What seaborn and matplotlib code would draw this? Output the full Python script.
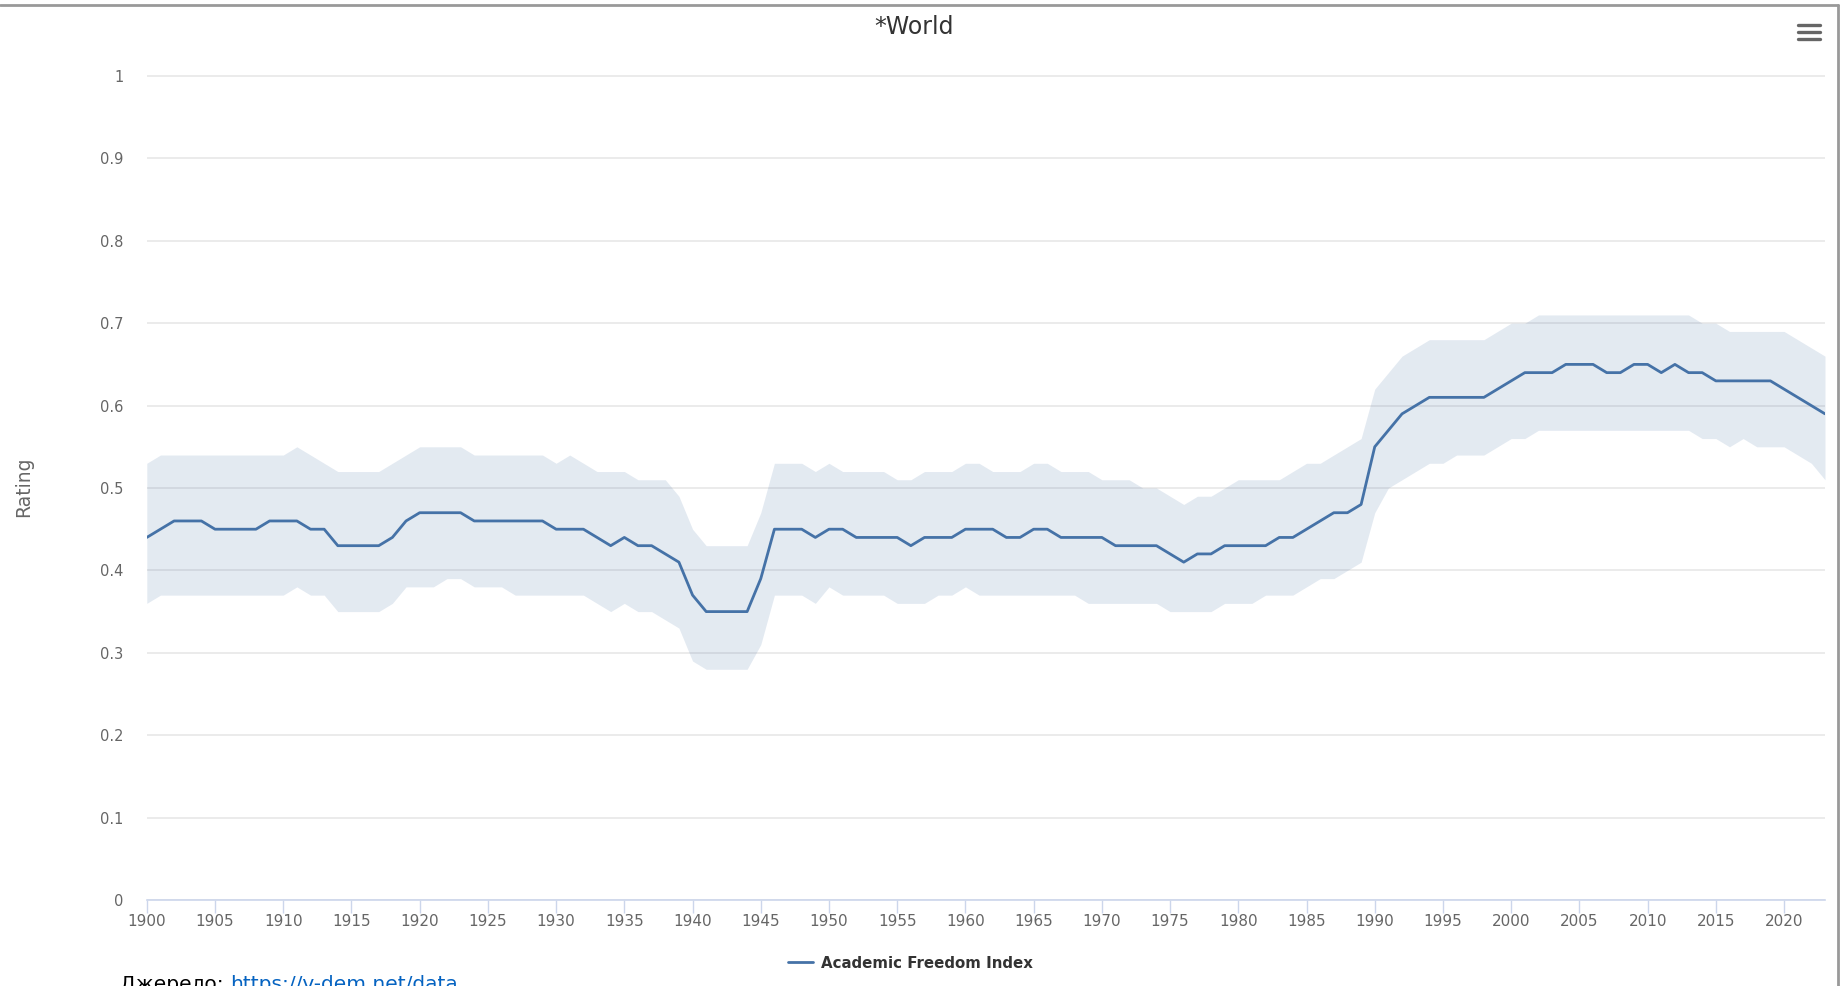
import numpy as np
import pandas as pd
import matplotlib
matplotlib.use('Agg')
import matplotlib.pyplot as plt
from matplotlib.lines import Line2D
import seaborn as sns

# дані: Academic Freedom Index, World
years = list(range(1900, 2024))

afi = [
    0.44, 0.45, 0.46, 0.46, 0.46, 0.45, 0.45, 0.45, 0.45, 0.46,  # 1900-1909
    0.46, 0.46, 0.45, 0.45, 0.43, 0.43, 0.43, 0.43, 0.44, 0.46,  # 1910-1919
    0.47, 0.47, 0.47, 0.47, 0.46, 0.46, 0.46, 0.46, 0.46, 0.46,  # 1920-1929
    0.45, 0.45, 0.45, 0.44, 0.43, 0.44, 0.43, 0.43, 0.42, 0.41,  # 1930-1939
    0.37, 0.35, 0.35, 0.35, 0.35, 0.39, 0.45, 0.45, 0.45, 0.44,  # 1940-1949
    0.45, 0.45, 0.44, 0.44, 0.44, 0.44, 0.43, 0.44, 0.44, 0.44,  # 1950-1959
    0.45, 0.45, 0.45, 0.44, 0.44, 0.45, 0.45, 0.44, 0.44, 0.44,  # 1960-1969
    0.44, 0.43, 0.43, 0.43, 0.43, 0.42, 0.41, 0.42, 0.42, 0.43,  # 1970-1979
    0.43, 0.43, 0.43, 0.44, 0.44, 0.45, 0.46, 0.47, 0.47, 0.48,  # 1980-1989
    0.55, 0.57, 0.59, 0.60, 0.61, 0.61, 0.61, 0.61, 0.61, 0.62,  # 1990-1999
    0.63, 0.64, 0.64, 0.64, 0.65, 0.65, 0.65, 0.64, 0.64, 0.65,  # 2000-2009
    0.65, 0.64, 0.65, 0.64, 0.64, 0.63, 0.63, 0.63, 0.63, 0.63,  # 2010-2019
    0.62, 0.61, 0.60, 0.59,                                      # 2020-2023
]

afi_high = [
    0.53, 0.54, 0.54, 0.54, 0.54, 0.54, 0.54, 0.54, 0.54, 0.54,
    0.54, 0.55, 0.54, 0.53, 0.52, 0.52, 0.52, 0.52, 0.53, 0.54,
    0.55, 0.55, 0.55, 0.55, 0.54, 0.54, 0.54, 0.54, 0.54, 0.54,
    0.53, 0.54, 0.53, 0.52, 0.52, 0.52, 0.51, 0.51, 0.51, 0.49,
    0.45, 0.43, 0.43, 0.43, 0.43, 0.47, 0.53, 0.53, 0.53, 0.52,
    0.53, 0.52, 0.52, 0.52, 0.52, 0.51, 0.51, 0.52, 0.52, 0.52,
    0.53, 0.53, 0.52, 0.52, 0.52, 0.53, 0.53, 0.52, 0.52, 0.52,
    0.51, 0.51, 0.51, 0.50, 0.50, 0.49, 0.48, 0.49, 0.49, 0.50,
    0.51, 0.51, 0.51, 0.51, 0.52, 0.53, 0.53, 0.54, 0.55, 0.56,
    0.62, 0.64, 0.66, 0.67, 0.68, 0.68, 0.68, 0.68, 0.68, 0.69,
    0.70, 0.70, 0.71, 0.71, 0.71, 0.71, 0.71, 0.71, 0.71, 0.71,
    0.71, 0.71, 0.71, 0.71, 0.70, 0.70, 0.69, 0.69, 0.69, 0.69,
    0.69, 0.68, 0.67, 0.66,
]

afi_low = [
    0.36, 0.37, 0.37, 0.37, 0.37, 0.37, 0.37, 0.37, 0.37, 0.37,
    0.37, 0.38, 0.37, 0.37, 0.35, 0.35, 0.35, 0.35, 0.36, 0.38,
    0.38, 0.38, 0.39, 0.39, 0.38, 0.38, 0.38, 0.37, 0.37, 0.37,
    0.37, 0.37, 0.37, 0.36, 0.35, 0.36, 0.35, 0.35, 0.34, 0.33,
    0.29, 0.28, 0.28, 0.28, 0.28, 0.31, 0.37, 0.37, 0.37, 0.36,
    0.38, 0.37, 0.37, 0.37, 0.37, 0.36, 0.36, 0.36, 0.37, 0.37,
    0.38, 0.37, 0.37, 0.37, 0.37, 0.37, 0.37, 0.37, 0.37, 0.36,
    0.36, 0.36, 0.36, 0.36, 0.36, 0.35, 0.35, 0.35, 0.35, 0.36,
    0.36, 0.36, 0.37, 0.37, 0.37, 0.38, 0.39, 0.39, 0.40, 0.41,
    0.47, 0.50, 0.51, 0.52, 0.53, 0.53, 0.54, 0.54, 0.54, 0.55,
    0.56, 0.56, 0.57, 0.57, 0.57, 0.57, 0.57, 0.57, 0.57, 0.57,
    0.57, 0.57, 0.57, 0.57, 0.56, 0.56, 0.55, 0.56, 0.55, 0.55,
    0.55, 0.54, 0.53, 0.51,
]

x_ticks = list(range(1900, 2021, 5))
y_ticks = [0, 0.1, 0.2, 0.3, 0.4, 0.5, 0.6, 0.7, 0.8, 0.9, 1]
y_tick_labels = ['0', '0.1', '0.2', '0.3', '0.4', '0.5', '0.6', '0.7', '0.8', '0.9', '1']

df = pd.DataFrame({'year': years, 'afi': afi, 'low': afi_low, 'high': afi_high})

LINE = '#4572a7'
GRID = '#e6e6e6'
AXIS = '#ccd6eb'
LABEL = '#666666'

sns.set_theme(style='white')
plt.rcParams['font.family'] = ['DejaVu Sans']

W, H = 1842, 986
fig = plt.figure(figsize=(W / 100, H / 100), dpi=100)

# площа графіка в пікселях
x0, x1 = 146.8, 1825
y_zero, y_one = 900, 76
ymax = 1.01
top_px = y_zero - (y_zero - y_one) * ymax
ax = fig.add_axes([x0 / W, 1 - y_zero / H, (x1 - x0) / W, (y_zero - top_px) / H])

ax.fill_between(df['year'], df['low'], df['high'], color=LINE, alpha=0.15,
                linewidth=0, zorder=2)
sns.lineplot(data=df, x='year', y='afi', ax=ax, color=LINE, linewidth=2.0,
             legend=False, zorder=3)

ax.set_xlim(1900, 2023)
ax.set_ylim(0, ymax)
ax.set_yticks(y_ticks)
ax.set_yticklabels(y_tick_labels)
ax.set_xticks(x_ticks)
ax.grid(axis='y', color=GRID, linewidth=1.1, zorder=0)
ax.grid(axis='x', visible=False)
ax.set_axisbelow(True)

for s in ['top', 'right', 'left']:
    ax.spines[s].set_visible(False)
ax.spines['bottom'].set_color(AXIS)
ax.spines['bottom'].set_linewidth(1.2)
ax.spines['bottom'].set_zorder(4)

ax.tick_params(axis='y', length=0, pad=17, labelsize=10.5, labelcolor=LABEL)
ax.tick_params(axis='x', length=9, width=1, color=AXIS, pad=1,
               labelsize=11, labelcolor=LABEL, bottom=True)
ax.set_xlabel('')
ax.set_ylabel('')

# підпис осі Y
fig.text(24 / W, 1 - 487 / H, 'Rating', rotation=90, ha='center', va='center',
         fontsize=13.5, color=LABEL)

# заголовок
fig.text(914 / W, 1 - 27 / H, '*World', ha='center', va='center',
         fontsize=17, color='#333333')

# легенда
handle = Line2D([], [], color=LINE, linewidth=2)
leg = fig.legend([handle], ['Academic Freedom Index'], loc='center',
                 bbox_to_anchor=(910 / W, 1 - 963 / H), frameon=False,
                 handlelength=1.7, handletextpad=0.5,
                 prop={'weight': 'bold', 'size': 10.8})
for t in leg.get_texts():
    t.set_color('#333333')

# меню (три смужки)
for yy in [25, 32, 39]:
    fig.add_artist(Line2D([1798 / W, 1820 / W], [1 - yy / H, 1 - yy / H],
                          transform=fig.transFigure, color='#666666',
                          linewidth=2.4, solid_capstyle='round'))

# рамка скріншота
fig.add_artist(Line2D([0, 1838 / W], [1 - 5 / H, 1 - 5 / H],
                      transform=fig.transFigure, color='#999999', linewidth=2))
fig.add_artist(Line2D([1838 / W, 1838 / W], [0, 1 - 5 / H],
                      transform=fig.transFigure, color='#999999', linewidth=2))

# джерело (обрізане знизу, як на оригіналі)
src = fig.text(120 / W, 1 - 990 / H, 'Джерело: ', ha='left', va='baseline',
               fontsize=14.5, color='black')
fig.canvas.draw()
bb = src.get_window_extent()
fig.text(bb.x1 / W, 1 - 990 / H, 'https://v-dem.net/data', ha='left',
         va='baseline', fontsize=14.5, color='#0563c1')

plt.savefig('out.png', dpi=100)
plt.close()
